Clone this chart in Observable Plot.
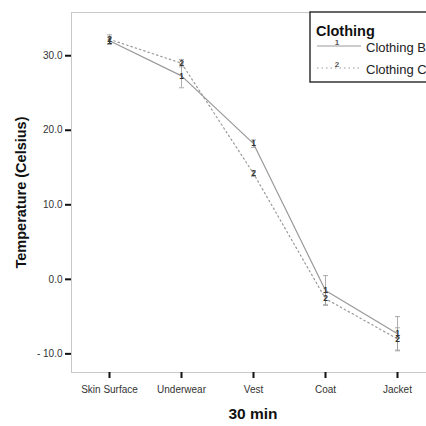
<!DOCTYPE html>
<html><head><meta charset="utf-8">
<script src="https://cdn.jsdelivr.net/npm/d3@7"></script>
<script src="https://cdn.jsdelivr.net/npm/@observablehq/plot@0.6"></script>
<style>
html,body{margin:0;padding:0;background:#fff;overflow:hidden;width:426px;height:426px;}
#c{position:relative;}
#c svg{max-width:none !important;}
</style></head><body><div id="c"></div>
<script>
const categories = ["Skin Surface","Underwear","Vest","Coat","Jacket"];
const seriesNames = ["Clothing B","Clothing C"];
const meanB = [32.0, 27.3, 18.2, -1.5, -7.3];
const errB  = [0.5, 1.6, 0.5, 2.0, 2.3];
const meanC = [32.2, 29.0, 14.2, -2.6, -8.0];
const errC  = [0.6, 0.5, 0.4, 0.8, 1.5];
const yTicks = [-10, 0, 10, 20, 30];
const markerLabels = ["1","2"];

const rows = [];
categories.forEach((c,i)=>{
  rows.push({cat:c, series:seriesNames[0], m:meanB[i], e:errB[i], mk:markerLabels[0]});
  rows.push({cat:c, series:seriesNames[1], m:meanC[i], e:errC[i], mk:markerLabels[1]});
});
const B = rows.filter(d=>d.series===seriesNames[0]);
const C = rows.filter(d=>d.series===seriesNames[1]);
const capSymbol = {draw(ctx,size){const r=2.5;ctx.moveTo(-r,0);ctx.lineTo(r,0);}};
const fmt = d => d < 0 ? "- " + Math.abs(d).toFixed(1) : d.toFixed(1);
const yDom = [-12.5, 35.8];

const chart = Plot.plot({
  width: 440, height: 426,
  marginLeft: 71, marginRight: 6, marginTop: 12, marginBottom: 54,
  style: {fontFamily: "Liberation Sans, Arial, sans-serif", fontSize: "10px", color: "#333", background: "#fff", overflow: "visible", maxWidth: "none"},
  x: {type: "point", domain: categories, padding: 0.5, label: null},
  y: {domain: yDom, label: null},
  marks: [
    Plot.ruleY([yDom[1]], {stroke: "#c8c8c8", strokeWidth: 1}),
    Plot.ruleY([yDom[0]], {stroke: "#c8c8c8", strokeWidth: 1}),
    Plot.frame({anchor: "left", stroke: "#c8c8c8", strokeWidth: 1}),
    Plot.axisY({ticks: yTicks, tickFormat: fmt, tickSize: 6, tickPadding: 3, strokeWidth: 2, stroke: "#111", fill: "#333", fontSize: 10}),
    Plot.axisX({tickSize: 6, tickPadding: 7, strokeWidth: 2, stroke: "#111", fill: "#333", fontSize: 10, letterSpacing: "0.5px"}),
    Plot.ruleX(rows, {x: "cat", y1: d=>d.m-d.e, y2: d=>d.m+d.e, stroke: "#999", strokeWidth: 0.8}),
    Plot.dot(rows, {x: "cat", y: d=>d.m-d.e, symbol: capSymbol, stroke: "#999", strokeWidth: 0.8, r: 3}),
    Plot.dot(rows, {x: "cat", y: d=>d.m+d.e, symbol: capSymbol, stroke: "#999", strokeWidth: 0.8, r: 3}),
    Plot.line(B, {x: "cat", y: "m", stroke: "#999", strokeWidth: 1.2}),
    Plot.line(C, {x: "cat", y: "m", stroke: "#999", strokeWidth: 1.2, strokeDasharray: "1.5,3"}),
    Plot.text(rows, {x: "cat", y: "m", text: "mk", fill: "#333", fontSize: 8.5, fontWeight: "bold"}),
    Plot.text(["Temperature (Celsius)"], {frameAnchor: "left", textAnchor: "middle", lineAnchor: "middle", dx: -50, rotate: -90, fontSize: 14.5, fontWeight: "bold", fill: "#111"}),
    Plot.text(["30 min"], {frameAnchor: "bottom", textAnchor: "middle", lineAnchor: "middle", dy: 42, fontSize: 15.5, fontWeight: "bold", fill: "#111"})
  ]
});
document.getElementById("c").appendChild(chart);

// legend
const svg = d3.select(chart);
const g = svg.append("g").attr("font-family","Liberation Sans, Arial, sans-serif").attr("text-anchor","start");
g.append("rect").attr("x",310).attr("y",12).attr("width",140).attr("height",70).attr("fill","#fff").attr("stroke","#333").attr("stroke-width",1.5);
g.append("text").attr("x",316).attr("y",36).attr("font-size",14.5).attr("font-weight","bold").attr("fill","#111").text("Clothing");
const leg = [{name: seriesNames[0], y: 46, dash: null, mk: markerLabels[0]},{name: seriesNames[1], y: 68, dash: "1.5,3", mk: markerLabels[1]}];
leg.forEach(l=>{
  g.append("line").attr("x1",317).attr("x2",361).attr("y1",l.y).attr("y2",l.y).attr("stroke","#999").attr("stroke-width",1).attr("stroke-dasharray",l.dash);
  g.append("text").attr("x",337).attr("y",l.y-1).attr("font-size",8).attr("font-weight","bold").attr("fill","#555").attr("text-anchor","middle").text(l.mk);
  g.append("text").attr("x",366).attr("y",l.y+6).attr("font-size",13).attr("fill","#222").text(l.name);
});
</script></body></html>
